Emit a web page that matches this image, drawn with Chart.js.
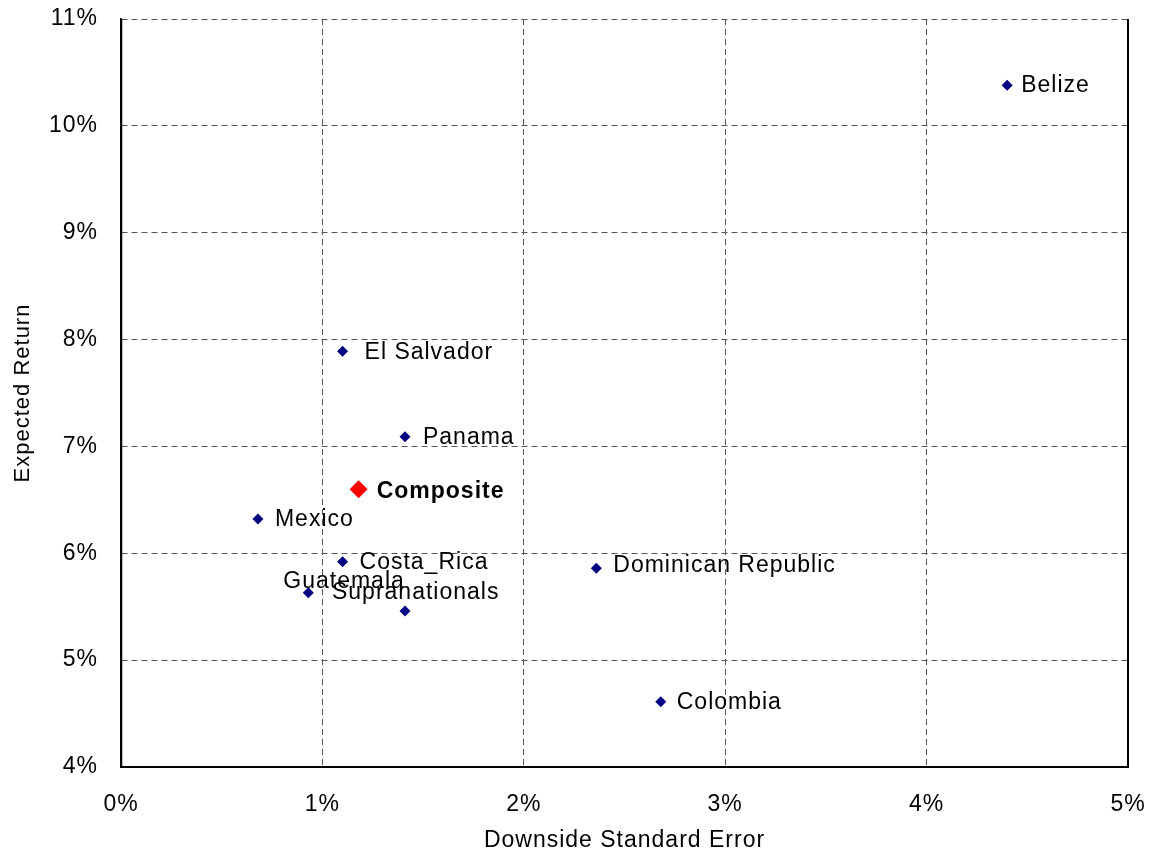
<!DOCTYPE html>
<html>
<head>
<meta charset="utf-8">
<script src="https://cdn.jsdelivr.net/npm/chart.js@4.4.1/dist/chart.umd.min.js"></script>
<style>
  html, body { margin: 0; padding: 0; background: #fff; }
  #wrap { width: 1155px; height: 856px; }
</style>
</head>
<body>
<div id="wrap"><canvas id="c" width="1155" height="856"></canvas></div>
<script>
// ---- Data ----
const countries = ["Belize", "El Salvador", "Panama", "Mexico", "Costa_Rica", "Guatemala", "Supranationals", "Dominican Republic", "Colombia"];
const downsideError = [0.0440, 0.0110, 0.0141, 0.0068, 0.0110, 0.0093, 0.0141, 0.0236, 0.0268];
const expectedReturn = [0.1038, 0.0789, 0.0709, 0.0632, 0.0592, 0.0563, 0.0546, 0.0586, 0.0461];
const compositeName = ["Composite"];
const compositeError = [0.0118];
const compositeReturn = [0.0660];
const xTicks = [0, 0.01, 0.02, 0.03, 0.04, 0.05];
const yTicks = [0.04, 0.05, 0.06, 0.07, 0.08, 0.09, 0.10, 0.11];

// label placement relative to each marker (pixels): [dx, dy]
const labelOffsets = [[14, 0], [22, 1], [18, 1], [17, 1], [17, 1], [-25, -11], [-73, -18], [17, -3], [16, 1]];
const compositeOffset = [18, 2];

const FONT = "'Liberation Sans', Arial, sans-serif";
const pct = v => Math.round(v * 100) + '%';

const countryPoints = downsideError.map((x, i) => ({ x: x, y: expectedReturn[i] }));
const compositePoints = compositeError.map((x, i) => ({ x: x, y: compositeReturn[i] }));

const spacingPlugin = {
  id: 'spacing',
  beforeDraw(chart) { chart.ctx.letterSpacing = '1px'; }
};

const framePlugin = {
  id: 'frame',
  beforeDatasetsDraw(chart) {
    const { ctx, chartArea: a } = chart;
    ctx.save();
    ctx.setLineDash([]);
    ctx.strokeStyle = '#000';
    ctx.lineWidth = 2;
    ctx.beginPath();
    ctx.moveTo(a.right, a.top);
    ctx.lineTo(a.right, a.bottom);
    ctx.stroke();
    ctx.lineWidth = 1.5;
    ctx.beginPath();
    ctx.moveTo(a.left + 0.5, a.top);
    ctx.lineTo(a.left + 0.5, a.bottom);
    ctx.stroke();
    ctx.restore();
  }
};

const labelPlugin = {
  id: 'pointLabels',
  afterDatasetsDraw(chart) {
    const ctx = chart.ctx;
    ctx.save();
    ctx.letterSpacing = '1px';
    ctx.fillStyle = '#000';
    ctx.textAlign = 'left';
    ctx.textBaseline = 'middle';
    ctx.font = '23px ' + FONT;
    chart.getDatasetMeta(0).data.forEach((pt, i) => {
      ctx.fillText(countries[i], pt.x + labelOffsets[i][0], pt.y + labelOffsets[i][1]);
    });
    ctx.font = 'bold 23px ' + FONT;
    chart.getDatasetMeta(1).data.forEach((pt, i) => {
      ctx.fillText(compositeName[i], pt.x + compositeOffset[0], pt.y + compositeOffset[1]);
    });
    ctx.restore();
  }
};

new Chart(document.getElementById('c'), {
  type: 'scatter',
  data: {
    datasets: [
      {
        label: 'Countries',
        data: countryPoints,
        pointStyle: 'rectRot',
        pointRadius: 5.5,
        pointHoverRadius: 5.5,
        backgroundColor: '#000080',
        borderColor: '#000080',
        borderWidth: 0
      },
      {
        label: 'Composite',
        data: compositePoints,
        pointStyle: 'rectRot',
        pointRadius: 9,
        pointHoverRadius: 9,
        backgroundColor: '#ff0000',
        borderColor: '#ff0000',
        borderWidth: 0
      }
    ]
  },
  options: {
    responsive: false,
    animation: false,
    events: [],
    layout: { padding: { top: 19, right: 27, left: 0, bottom: 0 } },
    plugins: {
      legend: { display: false },
      tooltip: { enabled: false }
    },
    scales: {
      x: {
        type: 'linear',
        min: xTicks[0],
        max: xTicks[xTicks.length - 1],
        afterBuildTicks(scale) { scale.ticks = xTicks.map(v => ({ value: v })); },
        afterFit(scale) {
          scale.height = 89;
          scale.paddingLeft = 0; scale.paddingRight = 0;
        },
        ticks: {
          padding: 24,
          color: '#000',
          font: { family: FONT, size: 23 },
          maxRotation: 0,
          callback: v => pct(v)
        },
        grid: { color: '#555', lineWidth: 1, drawTicks: false },
        border: { display: true, color: '#000', width: 2, dash: [6, 4] },
        title: {
          display: true,
          text: 'Downside Standard Error',
          color: '#000',
          font: { family: FONT, size: 23 },
          padding: { top: 0, bottom: 2 }
        }
      },
      y: {
        type: 'linear',
        min: yTicks[0],
        max: yTicks[yTicks.length - 1],
        afterBuildTicks(scale) { scale.ticks = yTicks.map(v => ({ value: v })); },
        afterFit(scale) {
          scale.width = 121;
          scale.paddingTop = 0; scale.paddingBottom = 0;
        },
        ticks: {
          padding: 23,
          color: '#000',
          font: { family: FONT, size: 23 },
          callback: v => pct(v)
        },
        grid: { color: '#555', lineWidth: 1, drawTicks: false },
        border: { display: true, color: '#000', width: 1.5, dash: [6, 4] },
        title: {
          display: true,
          text: 'Expected Return',
          color: '#000',
          font: { family: FONT, size: 22 },
          padding: { top: 10, bottom: 0 }
        }
      }
    }
  },
  plugins: [spacingPlugin, framePlugin, labelPlugin]
});
</script>
</body>
</html>
